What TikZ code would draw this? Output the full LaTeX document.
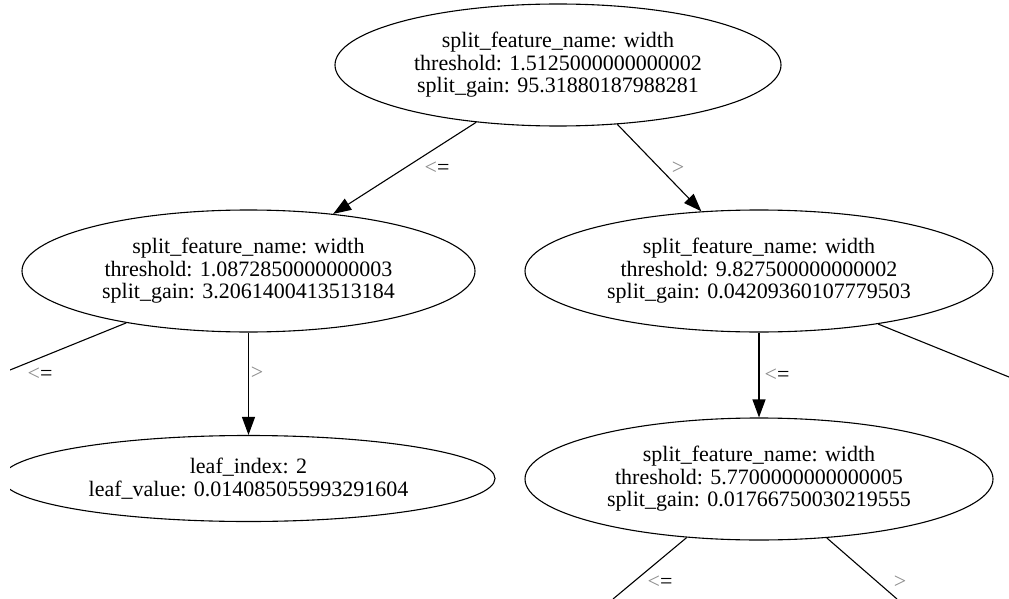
\documentclass[tikz,border=0pt]{standalone}
\usepackage{fontspec}
\setmainfont{Liberation Serif}
\usetikzlibrary{shapes.geometric,arrows.meta}
\begin{document}
\begin{tikzpicture}[x=1pt,y=-1pt,
  treenode/.style={draw=black,line width=1.1pt,ellipse,inner sep=0pt,align=center,
    font=\fontsize{22}{22.5}\selectfont},
  edge/.style={draw=black,line width=1.1pt},
  arrowedge/.style={edge,-{Triangle[length=18pt,width=13pt]}},
  elabel/.style={inner sep=0pt,font=\fontsize{22}{22}\selectfont}]
\useasboundingbox[fill=white] (0,0) rectangle (1009,599);
\clip (10,0) rectangle (1009,599);
\node[treenode,minimum width=446pt,minimum height=122pt] (root) at (558,65)
  {split\_feature\_name: width\\threshold: 1.5125000000000002\\split\_gain: 95.31880187988281};
\node[treenode,minimum width=453pt,minimum height=122pt] (lm) at (248.5,271)
  {split\_feature\_name: width\\threshold: 1.0872850000000003\\split\_gain: 3.2061400413513184};
\node[treenode,minimum width=468pt,minimum height=122pt] (rm) at (759,271)
  {split\_feature\_name: width\\threshold: 9.827500000000002\\split\_gain: 0.04209360107779503};
\node[treenode,minimum width=493pt,minimum height=86pt] (leaf) at (248.5,478.5)
  {leaf\_index: 2\\leaf\_value: 0.014085055993291604};
\node[treenode,minimum width=468pt,minimum height=122pt] (br) at (759,479)
  {split\_feature\_name: width\\threshold: 5.7700000000000005\\split\_gain: 0.01766750030219555};
\coordinate (lmout) at (10,370);
\coordinate (rmout) at (1009,377);
\coordinate (brleft) at (613,599);
\coordinate (brright) at (897,599);
\draw[arrowedge] (root.215.4) -- (lm.34.5);
\draw[arrowedge] (root.315) -- (rm.134.5);
\draw[edge] (lm.203.5) -- (lmout);
\draw[arrowedge] (lm.south) -- (leaf.north);
\draw[edge] (rm.336.8) -- (rmout);
\draw[arrowedge] (rm.south) -- (br.north);
\draw[edge] (br.219.8) -- (brleft);
\draw[edge] (br.319) -- (brright);
\node[elabel] (l1) at (437,168) {{\color{black!45}<}=};
\node[elabel] (l2) at (678,168) {{\color{black!45}>}};
\node[elabel] (l3) at (40,374) {{\color{black!45}<}=};
\node[elabel] (l4) at (257,373) {{\color{black!45}>}};
\node[elabel] (l5) at (777,375) {{\color{black!45}<}=};
\node[elabel] (l6) at (660,582) {{\color{black!45}<}=};
\node[elabel] (l7) at (900,582) {{\color{black!45}>}};
\end{tikzpicture}
\end{document}
